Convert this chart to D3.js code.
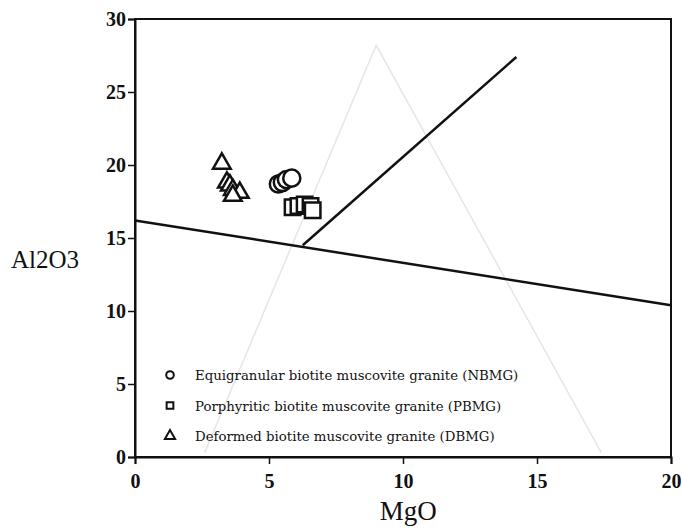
<!DOCTYPE html>
<html>
<head>
<meta charset="utf-8">
<script src="https://cdnjs.cloudflare.com/ajax/libs/d3/7.8.5/d3.min.js"></script>
<style>
  body { margin: 0; background: #fff; }
  svg { display: block; }
  .serif { font-family: "Liberation Serif", "Times New Roman", Times, serif; }
</style>
</head>
<body>
<div id="chart"></div>
<script>
// data
let nbmg = [[5.35, 18.7], [5.5, 18.8], [5.65, 19.0], [5.85, 19.1]];
let pbmg = [[5.88, 17.1], [6.1, 17.2], [6.33, 17.3], [6.55, 17.2], [6.63, 16.9]];
let dbmg = [[3.24, 20.1], [3.43, 18.8], [3.54, 18.6], [3.65, 18.3], [3.91, 18.1], [3.65, 17.9]];
let lineA = [[0, 16.2], [20, 10.4]];
let lineB = [[6.26, 14.5], [14.23, 27.4]];
let ghost = [[2.6, 0.3], [9.0, 28.2], [17.4, 0.3]];
let xTicks = [0, 5, 10, 15, 20];
let yTicks = [0, 5, 10, 15, 20, 25, 30];
let legendNames = ["Equigranular biotite muscovite granite (NBMG)",
                   "Porphyritic biotite muscovite granite (PBMG)",
                   "Deformed biotite muscovite granite  (DBMG)"];
let legendShapes = ["circle", "square", "triangle"];

let W = 682, H = 530;
let mLeft = 135, mRight = 671, mTop = 19, mBottom = 457;

const svg = d3.select("#chart").append("svg")
              .attr("width", W)
              .attr("height", H);

const x = d3.scaleLinear().domain([0, 20]).range([mLeft, mRight]);
const y = d3.scaleLinear().domain([0, 30]).range([mBottom, mTop]);

// faint show-through triangle
svg.append("path")
   .attr("d", d3.line().x(d => x(d[0])).y(d => y(d[1]))(ghost))
   .attr("fill", "none")
   .attr("stroke", "#e6e6e6")
   .attr("stroke-width", 1.5);

// frame
svg.append("rect")
   .attr("x", mLeft).attr("y", mTop)
   .attr("width", mRight - mLeft).attr("height", mBottom - mTop)
   .attr("fill", "none")
   .attr("stroke", "#111")
   .attr("stroke-width", 2);

const xAxis = d3.axisBottom(x).tickValues(xTicks).tickSize(7).tickPadding(6);
const yAxis = d3.axisLeft(y).tickValues(yTicks).tickSize(7).tickPadding(2);

let gx = svg.append("g").attr("transform", "translate(0," + mBottom + ")").call(xAxis);
let gy = svg.append("g").attr("transform", "translate(" + mLeft + ",0)").call(yAxis);

[gx, gy].forEach(g => {
  g.attr("font-family", null);
  g.select(".domain").attr("stroke", "#111").attr("stroke-width", 2);
  g.selectAll(".tick line").attr("stroke", "#111").attr("stroke-width", 1.5);
  g.selectAll("text")
   .attr("class", "serif")
   .style("font-size", "20px")
   .style("font-weight", "bold")
   .attr("fill", "#111");
});
gx.selectAll(".tick text").attr("dy", "0.9em");

// axis titles
svg.append("text")
   .attr("class", "serif")
   .attr("x", x(10.2)).attr("y", 520)
   .attr("text-anchor", "middle")
   .style("font-size", "27px")
   .attr("fill", "#111")
   .text("MgO");

svg.append("text")
   .attr("class", "serif")
   .attr("x", 11).attr("y", 268)
   .style("font-size", "25px")
   .attr("fill", "#111")
   .text("Al2O3");

// discrimination lines
[lineA, lineB].forEach(l => {
  svg.append("line")
     .attr("x1", x(l[0][0])).attr("y1", y(l[0][1]))
     .attr("x2", x(l[1][0])).attr("y2", y(l[1][1]))
     .attr("stroke", "#111")
     .attr("stroke-width", 2.5);
});

function symbol(shape, size) {
  let t = shape == "circle" ? d3.symbolCircle : shape == "square" ? d3.symbolSquare : d3.symbolTriangle;
  return d3.symbol().type(t).size(size)();
}

let series = [[nbmg, "circle", 230], [pbmg, "square", 240], [dbmg, "triangle", 135]];
series.forEach(s => {
  svg.append("g").selectAll("path")
     .data(s[0])
     .enter()
     .append("path")
     .attr("d", symbol(s[1], s[2]))
     .attr("transform", d => "translate(" + x(d[0]) + "," + y(d[1]) + ")")
     .attr("fill", "#fff")
     .attr("stroke", "#111")
     .attr("stroke-width", 2.5);
});

// legend
let lg = svg.append("g");
legendNames.forEach((name, i) => {
  let ly = 375 + i * 30.5;
  lg.append("path")
    .attr("d", symbol(legendShapes[i], 45))
    .attr("transform", "translate(170," + ly + ")")
    .attr("fill", "#fff")
    .attr("stroke", "#111")
    .attr("stroke-width", 2);
  lg.append("text")
    .attr("x", 195).attr("y", ly + 5)
    .style("font-family", "'DejaVu Serif', serif")
    .style("font-size", "13.3px")
    .attr("fill", "#111")
    .text(name);
});
</script>
</body>
</html>
